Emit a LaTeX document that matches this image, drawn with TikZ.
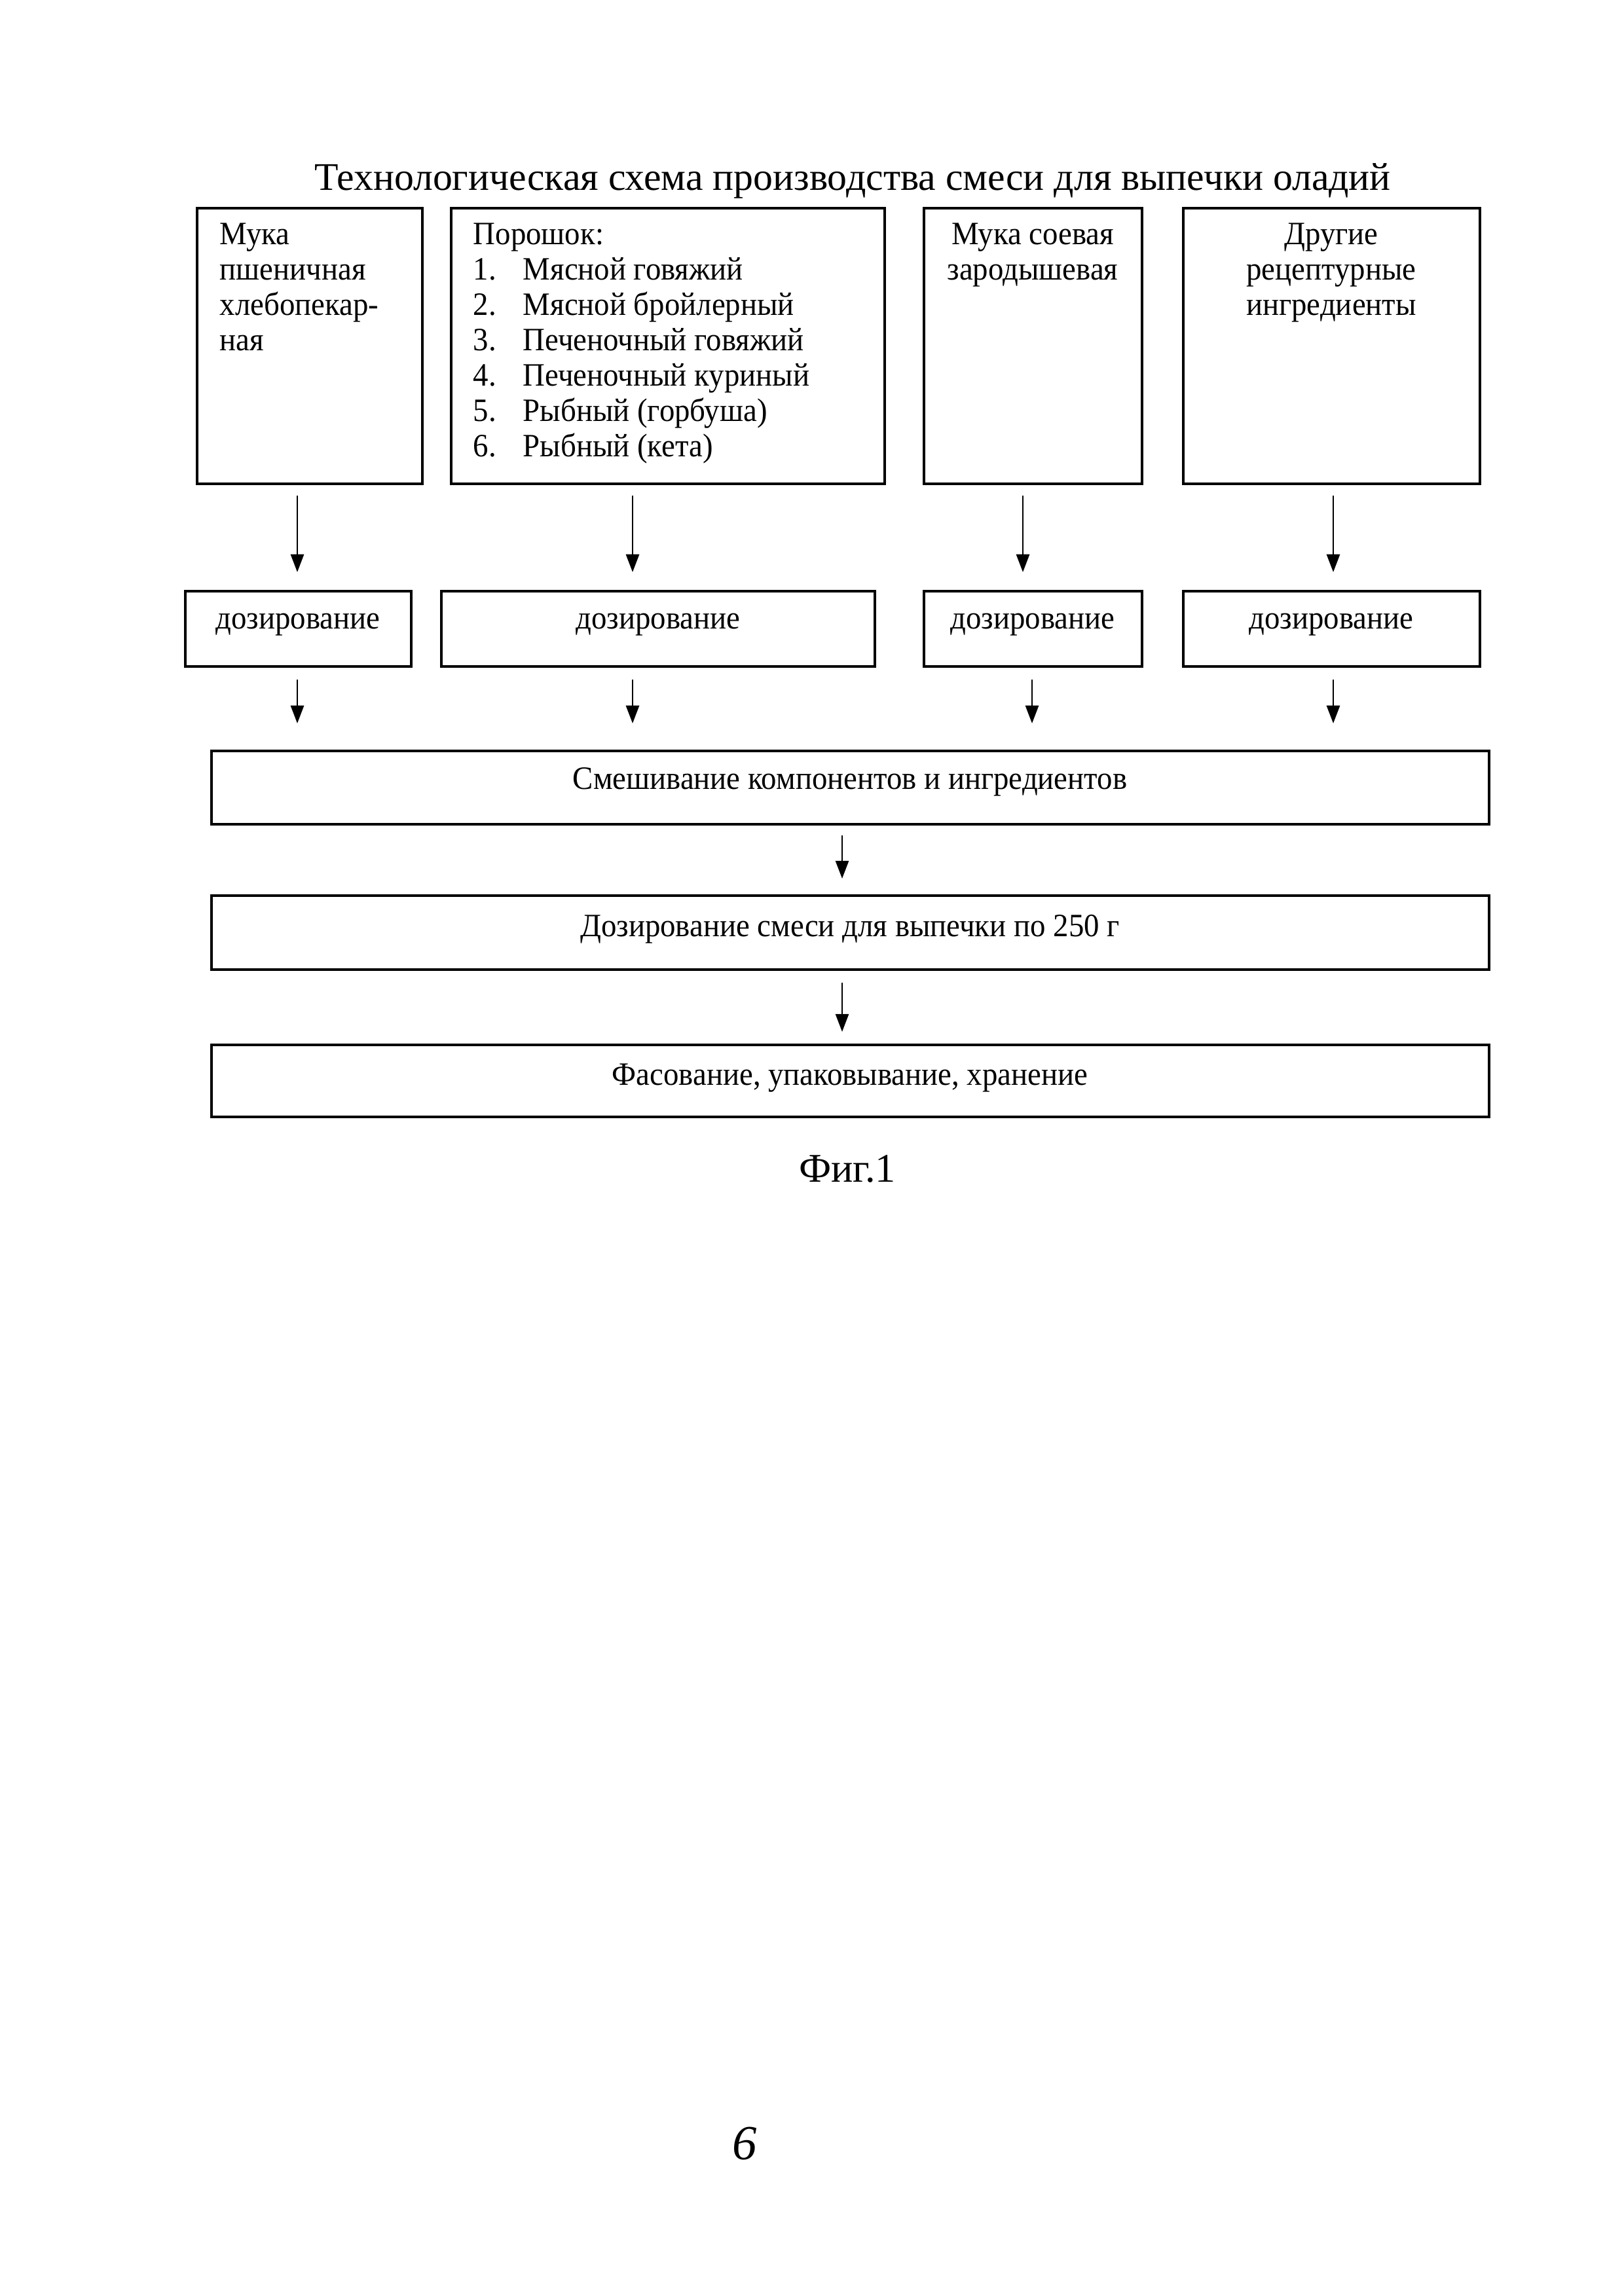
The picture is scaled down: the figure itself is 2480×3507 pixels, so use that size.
\documentclass[tikz,border=0pt]{standalone}
\usepackage{fontspec}
\setmainfont{Liberation Serif}
\newfontfamily\boxfont[FakeStretch=0.94]{Liberation Serif}
\usetikzlibrary{arrows.meta,fit}
\begin{document}
\begin{tikzpicture}[x=0.0846667mm, y=-0.0846667mm,
  box/.style={draw, line width=1pt, inner sep=0pt},
  txt/.style={inner sep=0pt, font=\boxfont\fontsize{12}{13.8}\selectfont},
  arr/.style={line width=0.6pt, -{Triangle[length=2.3mm,width=1.7mm]}}]
\useasboundingbox[fill=white] (0,0) rectangle (2480,3507);

% title
\node[inner sep=0pt, anchor=base, font=\fontsize{14.4}{16}\selectfont] (title) at (1302,290)
  {Технологическая схема производства смеси для выпечки оладий};

% top boxes
\node[box, fit={(301,318)(645,739)}] (B1) {};
\node[box, fit={(689,318)(1351,739)}] (B2) {};
\node[box, fit={(1411,318)(1744,739)}] (B3) {};
\node[box, fit={(1807,318)(2260,739)}] (B4) {};

\node[txt, anchor=base west] (b1a) at (335,373) {Мука};
\node[txt, anchor=base west] (b1b) at (335,427) {пшеничная};
\node[txt, anchor=base west] (b1c) at (335,481) {хлебопекар-};
\node[txt, anchor=base west] (b1d) at (335,535) {ная};

\node[txt, anchor=base west] (b2h) at (722,373) {Порошок:};
\foreach \i/\t in {1/Мясной говяжий, 2/Мясной бройлерный, 3/Печеночный говяжий,
                   4/Печеночный куриный, 5/Рыбный (горбуша), 6/Рыбный (кета)} {
  \node[txt, anchor=base west] (b2n\i) at (722,{373+54*\i}) {\i.};
  \node[txt, anchor=base west] (b2t\i) at (798,{373+54*\i}) {\t};
}

\node[txt, anchor=base] (b3a) at (1577,373) {Мука соевая};
\node[txt, anchor=base] (b3b) at (1577,427) {зародышевая};

\node[txt, anchor=base] (b4a) at (2033,373) {Другие};
\node[txt, anchor=base] (b4b) at (2033,427) {рецептурные};
\node[txt, anchor=base] (b4c) at (2033,481) {ингредиенты};

% dosing boxes
\node[box, fit={(283,903)(628,1018)}] (D1) {};
\node[box, fit={(674,903)(1336,1018)}] (D2) {};
\node[box, fit={(1411,903)(1744,1018)}] (D3) {};
\node[box, fit={(1807,903)(2260,1018)}] (D4) {};
\node[txt, anchor=base] (d1t) at (455,960) {дозирование};
\node[txt, anchor=base] (d2t) at (1005,960) {дозирование};
\node[txt, anchor=base] (d3t) at (1577,960) {дозирование};
\node[txt, anchor=base] (d4t) at (2033,960) {дозирование};

% lower boxes
\node[box, fit={(323,1147)(2274,1259)}] (M) {};
\node[box, fit={(323,1368)(2274,1481)}] (P) {};
\node[box, fit={(323,1596)(2274,1706)}] (F) {};
\node[txt, anchor=base] (mt) at (1298,1205) {Смешивание компонентов и ингредиентов};
\node[txt, anchor=base] (pt) at (1298,1430) {Дозирование смеси для выпечки по 250 г};
\node[txt, anchor=base] (ft) at (1298,1657) {Фасование, упаковывание, хранение};

% arrow columns
\coordinate (xa1) at (454,0);
\coordinate (xa2) at (966,0);
\coordinate (xa3) at (1562,0);
\coordinate (xa4) at (2036,0);
\coordinate (xb3) at (1576,0);
\coordinate (xc) at (1286,0);

\draw[arr, shorten <=1.35mm, shorten >=2.29mm] (xa1 |- B1.south) -- (xa1 |- D1.north);
\draw[arr, shorten <=1.35mm, shorten >=2.29mm] (xa2 |- B2.south) -- (xa2 |- D2.north);
\draw[arr, shorten <=1.35mm, shorten >=2.29mm] (xa3 |- B3.south) -- (xa3 |- D3.north);
\draw[arr, shorten <=1.35mm, shorten >=2.29mm] (xa4 |- B4.south) -- (xa4 |- D4.north);

\draw[arr, shorten <=1.52mm, shorten >=3.39mm] (xa1 |- D1.south) -- (xa1 |- M.north);
\draw[arr, shorten <=1.52mm, shorten >=3.39mm] (xa2 |- D2.south) -- (xa2 |- M.north);
\draw[arr, shorten <=1.52mm, shorten >=3.39mm] (xb3 |- D3.south) -- (xb3 |- M.north);
\draw[arr, shorten <=1.52mm, shorten >=3.39mm] (xa4 |- D4.south) -- (xa4 |- M.north);

\draw[arr, shorten <=1.27mm, shorten >=2.03mm] (xc |- M.south) -- (xc |- P.north);
\draw[arr, shorten <=1.52mm, shorten >=1.52mm] (xc |- P.south) -- (xc |- F.north);

% caption and page number
\node[inner sep=0pt, anchor=base, font=\fontsize{15}{17}\selectfont] (fig) at (1294,1805) {Фиг.1};
\node[inner sep=0pt, anchor=base, font=\itshape\fontsize{18}{20}\selectfont] (pg) at (1137,3298) {6};
\end{tikzpicture}
\end{document}
